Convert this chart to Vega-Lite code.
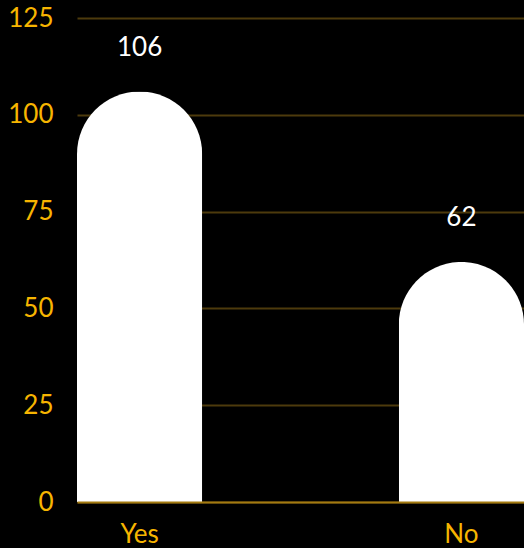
{
  "$schema": "https://vega.github.io/schema/vega-lite/v6.json",
  "autosize": "none",
  "width": 447,
  "height": 484,
  "padding": {"left": 77, "top": 18, "right": 0, "bottom": 46},
  "background": "#000000",
  "config": {"view": {"stroke": null}, "font": "Lato"},
  "data": {"values": [{"answer": "Yes", "count": 106}, {"answer": "No", "count": 62}]},
  "encoding": {
    "x": {
      "field": "answer", "type": "nominal", "sort": ["Yes", "No"],
      "scale": {"paddingInner": 0.611, "paddingOuter": 0},
      "axis": {"title": null, "labelAngle": 0, "labelColor": "#f7b500", "labelFontSize": 26, "labelFont": "Lato", "labelPadding": 19, "ticks": false, "domainColor": "#a37a10", "domainWidth": 2, "zindex": 1}
    },
    "y": {
      "field": "count", "type": "quantitative",
      "scale": {"domain": [0, 125]},
      "axis": {"title": null, "values": [0, 25, 50, 75, 100, 125], "labelColor": "#f7b500", "labelFontSize": 26, "labelFont": "Lato", "labelPadding": 24, "ticks": false, "domain": false, "gridColor": "#4d3a0c", "gridWidth": 2}
    }
  },
  "layer": [
    {"mark": {"type": "bar", "color": "#ffffff", "cornerRadiusTopLeft": 63, "cornerRadiusTopRight": 63}},
    {"mark": {"type": "text", "color": "#ffffff", "fontSize": 26, "font": "Lato", "baseline": "bottom", "dy": -31}, "encoding": {"text": {"field": "count", "type": "quantitative"}}}
  ]
}
